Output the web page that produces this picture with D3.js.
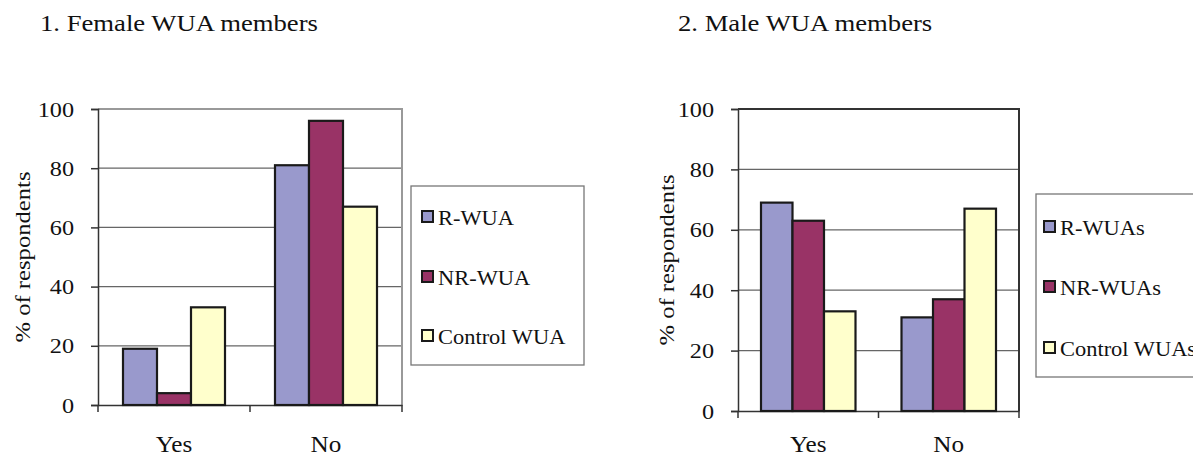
<!DOCTYPE html>
<html>
<head>
<meta charset="utf-8">
<script src="https://cdn.jsdelivr.net/npm/d3@7"></script>
<style>
html,body{margin:0;padding:0;background:#fff;overflow:hidden;}
</style>
</head>
<body>
<svg id="c" width="1193" height="456"></svg>
<script>
const categories = ["Yes", "No"];
const femaleSeries = ["R-WUA", "NR-WUA", "Control WUA"];
const maleSeries = ["R-WUAs", "NR-WUAs", "Control WUAs"];
const femaleValues = [[19, 81], [4, 96], [33, 67]];
const maleValues = [[69, 31], [63, 37], [33, 67]];
const yTicks = [0, 20, 40, 60, 80, 100];
const titles = ["1. Female WUA members", "2. Male WUA members"];
const yLabel = "% of respondents";
const colors = ["#9999cc", "#993366", "#ffffcc"];

const svg = d3.select("#c");
const FONT = "Liberation Serif";

function txt(g, s, x, y, size, anchor, rot, sx) {
  return g.append("text").text(s)
    .style("font-family", FONT)
    .style("font-size", size + "px")
    .attr("fill", "#111")
    .attr("text-anchor", anchor || "start")
    .attr("transform", `translate(${x},${y}) rotate(${rot||0}) scale(${sx||1},1)`);
}

function chart(cfg) {
  const g = svg.append("g");
  const x = d3.scaleBand().domain(categories).range([cfg.x0, cfg.x1]);
  const y = d3.scaleLinear().domain([0, 100]).range([cfg.yb, cfg.yt]);
  const sub = d3.scaleBand().domain(cfg.series.map((d,i)=>i)).range([cfg.pad, x.bandwidth() - cfg.pad]);

  g.append("g").selectAll("line").data(yTicks.filter(d => d > 0 && d < 100)).join("line")
    .attr("x1", cfg.x0).attr("x2", cfg.x1)
    .attr("y1", d => y(d)).attr("y2", d => y(d))
    .attr("stroke", "#666").attr("stroke-width", 1.2);
  g.append("path")
    .attr("d", `M${cfg.x0},${y(100)}H${cfg.x1}V${y(0)}`)
    .attr("fill", "none").attr("stroke", cfg.frame).attr("stroke-width", 2);

  const ya = g.append("g").attr("transform", `translate(${cfg.x0},0)`)
    .call(d3.axisLeft(y).tickValues(yTicks).tickSize(7).tickFormat(""));
  ya.select(".domain").attr("stroke", "#333").attr("stroke-width", 1.5);
  ya.selectAll(".tick line").attr("stroke", "#333").attr("stroke-width", 1.5);
  yTicks.forEach(v => txt(g, String(v), cfg.x0 - 24, y(v) + 7.5, 22, "end", 0, 1.1));

  const xa = g.append("g").attr("transform", `translate(0,${y(0)})`)
    .call(d3.axisBottom(x).tickSize(0).tickFormat(""));
  xa.select(".domain").attr("stroke", "#333").attr("stroke-width", 1.5);
  const bt = [cfg.x0].concat(categories.map(c => x(c) + x.bandwidth()));
  g.append("g").selectAll("line").data(bt).join("line")
    .attr("x1", d => d).attr("x2", d => d)
    .attr("y1", y(0)).attr("y2", y(0) + 7)
    .attr("stroke", "#333").attr("stroke-width", 1.5);
  categories.forEach(c => txt(g, c, x(c) + x.bandwidth()/2, cfg.catY, 24, "middle", 0, 1.05));

  cfg.values.forEach((vals, si) => {
    g.append("g").selectAll("rect").data(vals).join("rect")
      .attr("x", (d, ci) => x(categories[ci]) + sub(si))
      .attr("width", sub.bandwidth())
      .attr("y", d => y(d))
      .attr("height", d => y(0) - y(d))
      .attr("fill", colors[si])
      .attr("stroke", "#1a1a1a").attr("stroke-width", 2.2);
  });

  txt(g, yLabel, cfg.ylx, (cfg.yt + cfg.yb) / 2, 22, "middle", -90, 1.12);
  txt(g, cfg.title, cfg.tx, 31, 23, "start", 0, 1.16);

  const L = cfg.legend;
  g.append("rect").attr("x", L.x).attr("y", L.y).attr("width", L.w).attr("height", L.h)
    .attr("fill", "#fff").attr("stroke", "#777").attr("stroke-width", 1.3);
  cfg.series.forEach((s, i) => {
    const cy = L.rows[i];
    g.append("rect").attr("x", L.sx).attr("y", cy - 6).attr("width", 11).attr("height", 11)
      .attr("fill", colors[i]).attr("stroke", "#1a1a1a").attr("stroke-width", 2);
    txt(g, s, L.tx, cy + 7.5, 22, "start", 0, 1.02);
  });
}

chart({
  x0: 98, x1: 402, yt: 109, yb: 405, pad: 25, frame: "#999",
  series: femaleSeries, values: femaleValues, catY: 452, ylx: 30, title: titles[0], tx: 40,
  legend: {x: 411, y: 186, w: 173, h: 179, sx: 422, tx: 438, rows: [217, 277, 336]}
});
chart({
  x0: 738, x1: 1019, yt: 109, yb: 411, pad: 23, frame: "#333",
  series: maleSeries, values: maleValues, catY: 452, ylx: 674, title: titles[1], tx: 678,
  legend: {x: 1036, y: 194, w: 200, h: 183, sx: 1044, tx: 1060, rows: [227, 287, 348]}
});
</script>
</body>
</html>
